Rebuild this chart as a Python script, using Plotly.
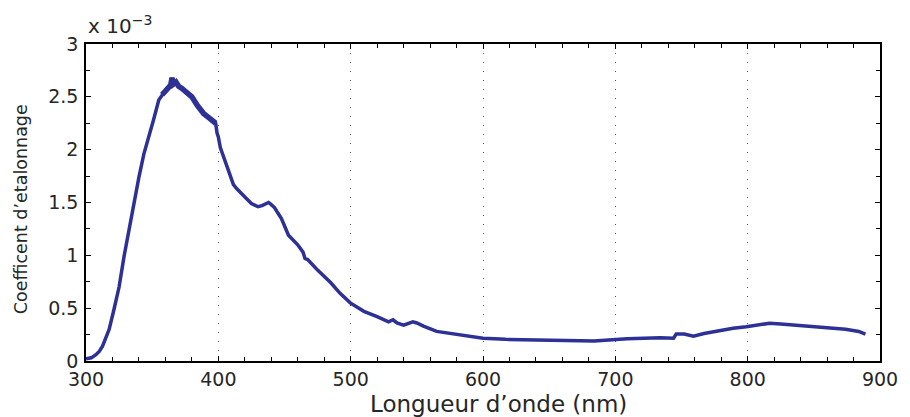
import plotly.graph_objects as go

# Calibration coefficient (units of 1e-3) versus wavelength in nm
wavelength_nm = [
    300, 304, 307.5, 310, 312.5, 315, 317.5, 321, 325, 328.75, 332.5, 336,
    340, 343.75, 347.5, 351, 355, 357.5, 360, 362, 364, 365, 366, 368, 370,
    372.5, 376, 380, 384, 389, 393, 396.5, 398, 399, 400, 401.5, 404, 407.7,
    411.4, 414, 417.5, 421, 425, 428, 430, 433, 436, 438, 440, 442.6, 445,
    447.6, 453, 460, 464, 465.5, 467.5, 475, 485, 492, 499.7, 510, 520,
    528.6, 532, 535, 540, 547, 550, 555, 565, 575, 585, 600, 617, 634, 655,
    674.5, 684, 709, 734, 744, 746, 752, 759, 767, 779, 789, 799, 808,
    816.6, 825, 834, 844, 854, 864, 874, 884, 889,
]
coef_e3 = [
    0.02, 0.03, 0.06, 0.09, 0.14, 0.21, 0.30, 0.48, 0.70, 0.99, 1.24, 1.49,
    1.74, 1.96, 2.12, 2.28, 2.47, 2.52, 2.56, 2.59, 2.61, 2.68, 2.62, 2.64,
    2.60, 2.58, 2.54, 2.50, 2.42, 2.34, 2.30, 2.26, 2.25, 2.16, 2.12, 2.02,
    1.93, 1.81, 1.67, 1.63, 1.59, 1.54, 1.49, 1.47, 1.46, 1.47, 1.49, 1.50,
    1.48, 1.45, 1.40, 1.35, 1.19, 1.10, 1.03, 0.97, 0.96, 0.86, 0.74, 0.64,
    0.55, 0.47, 0.42, 0.37, 0.39, 0.36, 0.34, 0.37, 0.36, 0.33, 0.28, 0.26,
    0.24, 0.215, 0.205, 0.20, 0.195, 0.19, 0.19, 0.21, 0.22, 0.215, 0.255,
    0.255, 0.235, 0.26, 0.29, 0.31, 0.325, 0.345, 0.357, 0.35, 0.34, 0.335,
    0.325, 0.315, 0.30, 0.28, 0.255,
]

# Span around the maximum where the measured signal is noisiest
noisy_band_nm = (357, 398)

x_major = [300, 400, 500, 600, 700, 800, 900]
y_major = [0, 0.5, 1, 1.5, 2, 2.5, 3]
y_labels = ["0", "0.5", "1", "1.5", "2", "2.5", "3"]

font_family = "DejaVu Sans"
ink = "#262626"
line_color = "#2D3094"

fig = go.Figure()
fig.add_trace(go.Scatter(
    x=wavelength_nm, y=coef_e3, mode="lines",
    line=dict(color=line_color, width=3.5),
    hoverinfo="skip", showlegend=False,
))

# Slightly heavier stroke over the noisy peak region
band = [(w, c) for w, c in zip(wavelength_nm, coef_e3)
        if noisy_band_nm[0] <= w <= noisy_band_nm[1]]
fig.add_trace(go.Scatter(
    x=[w for w, _ in band], y=[c for _, c in band], mode="lines",
    line=dict(color=line_color, width=5.5),
    hoverinfo="skip", showlegend=False,
))

fig.update_layout(
    width=910, height=417,
    margin=dict(l=86, r=22, t=44, b=56),
    paper_bgcolor="white", plot_bgcolor="white",
    font=dict(family=font_family, color=ink),
    xaxis=dict(
        range=[300, 900], tickvals=x_major,
        ticks="inside", ticklen=5, tickwidth=1, tickcolor="black",
        showline=True, linecolor="black", linewidth=1.5, mirror="ticks",
        showgrid=True, gridcolor="#555555", gridwidth=1, griddash="1px,8px",
        minor=dict(dtick=20, ticks="inside", ticklen=4, tickcolor="black", showgrid=False),
        tickfont=dict(size=19, color=ink, family=font_family),
        zeroline=False,
    ),
    yaxis=dict(
        range=[0, 3], tickvals=y_major, ticktext=y_labels,
        ticks="inside", ticklen=5, tickwidth=1, tickcolor="black",
        showline=True, linecolor="black", linewidth=1.5, mirror="ticks",
        showgrid=False, ticklabelstandoff=2,
        minor=dict(dtick=0.25, ticks="inside", ticklen=4, tickcolor="black", showgrid=False),
        tickfont=dict(size=19, color=ink, family=font_family),
        zeroline=False,
    ),
)

# Axis titles and exponent marker
fig.add_annotation(
    text="Longueur d\u2019onde (nm)", xref="paper", yref="paper",
    x=0.52, y=-43 / 317, xanchor="center", yanchor="middle",
    showarrow=False, font=dict(size=23, color=ink, family=font_family),
)
fig.add_annotation(
    text="Coefficent d\u2019etalonnage", xref="paper", yref="paper",
    x=-66 / 802, y=0.5 - 7 / 317, xanchor="center", yanchor="middle", textangle=-90,
    showarrow=False, font=dict(size=17.5, color=ink, family=font_family),
)
fig.add_annotation(
    text="x 10<sup>\u22123</sup>", xref="paper", yref="paper",
    x=0.0, y=1.0, xanchor="left", yanchor="bottom", yshift=4,
    showarrow=False, font=dict(size=20, color=ink, family=font_family),
)

fig.write_html("out.html")
